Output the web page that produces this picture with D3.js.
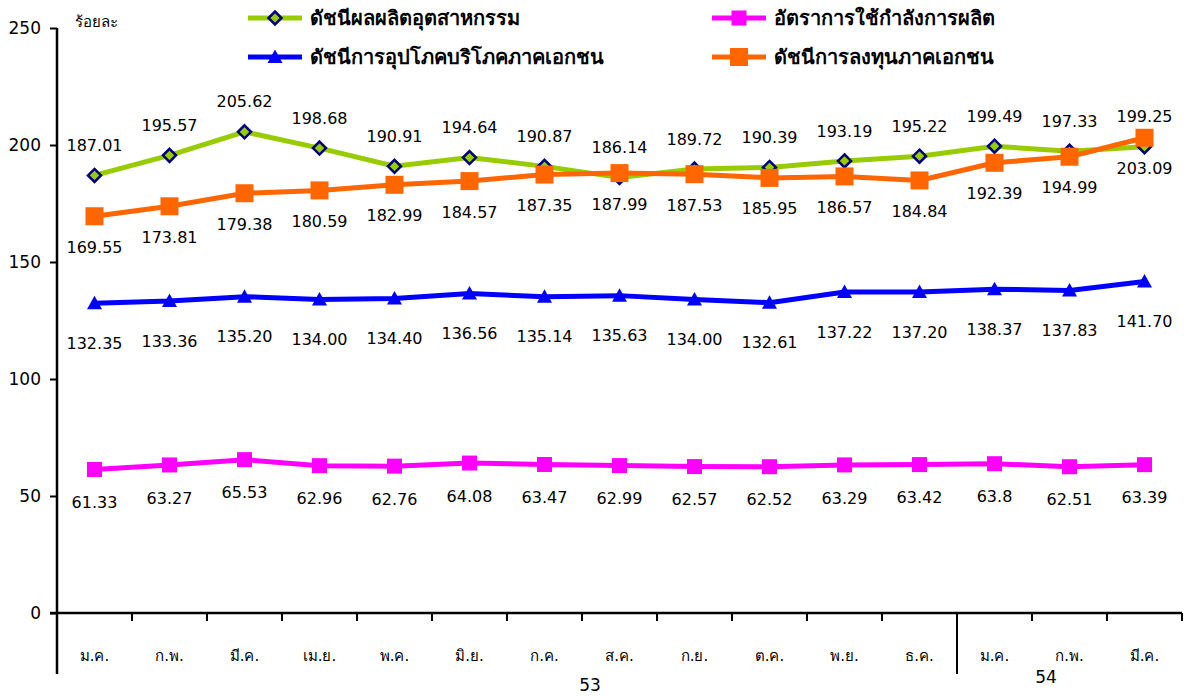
<!DOCTYPE html>
<html lang="th">
<head>
<meta charset="UTF-8">
<title>ดัชนีเศรษฐกิจ</title>
<script src="https://cdn.jsdelivr.net/npm/d3@7"></script>
<style>
    html, body {
        margin: 0;
        background: #fff;
    }
    svg text {
        font-family: Tahoma, "DejaVu Sans", "Noto Sans", sans-serif;
        fill: #000;
    }
</style>
</head>
<body>
<div id="chart"></div>
<script>
    // months (53 = 2553, 54 = 2554)
    const months = ["ม.ค.", "ก.พ.", "มี.ค.", "เม.ย.", "พ.ค.", "มิ.ย.", "ก.ค.", "ส.ค.", "ก.ย.", "ต.ค.", "พ.ย.", "ธ.ค.", "ม.ค.", "ก.พ.", "มี.ค."];
    const years = ["53", "54"];
    const yTicks = [0, 50, 100, 150, 200, 250];

    const industrialIndex = [187.01, 195.57, 205.62, 198.68, 190.91, 194.64, 190.87, 186.14, 189.72, 190.39, 193.19, 195.22, 199.49, 197.33, 199.25];
    const capacityRate = [61.33, 63.27, 65.53, 62.96, 62.76, 64.08, 63.47, 62.99, 62.57, 62.52, 63.29, 63.42, 63.8, 62.51, 63.39];
    const consumptionIndex = [132.35, 133.36, 135.20, 134.00, 134.40, 136.56, 135.14, 135.63, 134.00, 132.61, 137.22, 137.20, 138.37, 137.83, 141.70];
    const investmentIndex = [169.55, 173.81, 179.38, 180.59, 182.99, 184.57, 187.35, 187.99, 187.53, 185.95, 186.57, 184.84, 192.39, 194.99, 203.09];

    const seriesNames = ["ดัชนีผลผลิตอุตสาหกรรม", "อัตราการใช้กำลังการผลิต", "ดัชนีการอุปโภคบริโภคภาคเอกชน", "ดัชนีการลงทุนภาคเอกชน"];

    const width = 1197, height = 696;
    const mLeft = 57, mRight = 1182, mTop = 28, mBottom = 613;

    const series = [
        {name: seriesNames[0], values: industrialIndex, color: "#99cc00", stroke: "#000080", shape: "diamond", size: 13, dy: -30, fmt: d3.format(".2f")},
        {name: seriesNames[1], values: capacityRate, color: "#ff00ff", stroke: "#ff00ff", shape: "square", size: 15, dy: 33, fmt: d => String(d)},
        {name: seriesNames[2], values: consumptionIndex, color: "#0000ff", stroke: "#0000ff", shape: "triangle", size: 15, dy: 40, fmt: d3.format(".2f")},
        {name: seriesNames[3], values: investmentIndex, color: "#ff6600", stroke: "#ff6600", shape: "square", size: 18, dy: 31, fmt: d3.format(".2f")}
    ];

    const x = d3.scaleBand()
        .domain(months.map((m, i) => i))
        .range([mLeft, mRight]);

    const y = d3.scaleLinear()
        .domain([0, 250])
        .range([mBottom, mTop]);

    const svg = d3.select("#chart").append("svg")
        .attr("width", width)
        .attr("height", height);

    // y axis
    const yAxis = svg.append("g")
        .attr("transform", `translate(${mLeft},0)`)
        .call(d3.axisLeft(y).tickValues(yTicks).tickSize(7).tickPadding(9));
    yAxis.select(".domain").remove();
    yAxis.selectAll("line").attr("stroke", "#000").attr("stroke-width", 2);
    yAxis.selectAll("text").style("font-size", "17px");

    svg.append("line")
        .attr("x1", mLeft).attr("x2", mLeft)
        .attr("y1", mTop).attr("y2", 674)
        .attr("stroke", "#000").attr("stroke-width", 2.5);

    // x axis with ticks at category boundaries
    svg.append("line")
        .attr("x1", mLeft - 7).attr("x2", mRight)
        .attr("y1", mBottom).attr("y2", mBottom)
        .attr("stroke", "#000").attr("stroke-width", 2.5);

    const bounds = months.map((m, i) => x(i) + x.bandwidth());
    svg.append("g").selectAll("line")
        .data(bounds)
        .join("line")
        .attr("x1", d => d).attr("x2", d => d)
        .attr("y1", mBottom).attr("y2", mBottom + 8)
        .attr("stroke", "#000").attr("stroke-width", 2);

    // separator between years
    svg.append("line")
        .attr("x1", x(12)).attr("x2", x(12))
        .attr("y1", mBottom).attr("y2", 674)
        .attr("stroke", "#000").attr("stroke-width", 2);

    svg.append("g").selectAll("text")
        .data(months)
        .join("text")
        .attr("x", (d, i) => x(i) + x.bandwidth() / 2)
        .attr("y", 661)
        .attr("text-anchor", "middle")
        .style("font-size", "15px")
        .text(d => d);

    svg.append("text")
        .attr("x", 590).attr("y", 691)
        .attr("text-anchor", "middle")
        .style("font-size", "17px")
        .text(years[0]);
    svg.append("text")
        .attr("x", 1046).attr("y", 683)
        .attr("text-anchor", "middle")
        .style("font-size", "17px")
        .text(years[1]);

    svg.append("text")
        .attr("x", 75).attr("y", 27)
        .style("font-size", "15px")
        .text("ร้อยละ");

    function marker(sel, s) {
        const r = s.size / 2;
        if (s.shape === "diamond") {
            sel.append("path")
                .attr("d", `M0,${-r}L${r},0L0,${r}L${-r},0Z`)
                .attr("fill", s.color)
                .attr("stroke", s.stroke)
                .attr("stroke-width", 2.5);
        } else if (s.shape === "triangle") {
            sel.append("path")
                .attr("d", `M0,${-r}L${r},${r * 0.8}L${-r},${r * 0.8}Z`)
                .attr("fill", s.color);
        } else {
            sel.append("rect")
                .attr("x", -r).attr("y", -r)
                .attr("width", s.size).attr("height", s.size)
                .attr("fill", s.color);
        }
    }

    const line = d3.line()
        .x((d, i) => x(i) + x.bandwidth() / 2)
        .y(d => y(d));

    // draw lines, back to front
    const order = [1, 2, 0, 3];
    order.forEach(k => {
        const s = series[k];
        svg.append("path")
            .datum(s.values)
            .attr("fill", "none")
            .attr("stroke", s.color)
            .attr("stroke-width", 5)
            .attr("d", line);
        svg.append("g").selectAll("g")
            .data(s.values)
            .join("g")
            .attr("transform", (d, i) => `translate(${x(i) + x.bandwidth() / 2},${y(d)})`)
            .each(function() { marker(d3.select(this), s); });
    });

    // value labels
    series.forEach(s => {
        svg.append("g").selectAll("text")
            .data(s.values)
            .join("text")
            .attr("x", (d, i) => x(i) + x.bandwidth() / 2)
            .attr("y", d => y(d) + s.dy)
            .attr("dy", "0.35em")
            .attr("text-anchor", "middle")
            .style("font-size", "16px")
            .text(d => s.fmt(d));
    });

    // legend
    const legendPos = [[248, 18], [712, 18], [248, 57], [712, 57]];
    series.forEach((s, k) => {
        const [lx, ly] = legendPos[k];
        const g = svg.append("g").attr("transform", `translate(${lx},${ly})`);
        g.append("line")
            .attr("x1", 0).attr("x2", 54)
            .attr("stroke", s.color).attr("stroke-width", 5);
        const m = g.append("g").attr("transform", "translate(27,0)");
        marker(m, s);
        g.append("text")
            .attr("x", 62).attr("dy", "0.35em")
            .style("font-size", "20px")
            .style("font-weight", "bold")
            .text(s.name);
    });
</script>
</body>
</html>
